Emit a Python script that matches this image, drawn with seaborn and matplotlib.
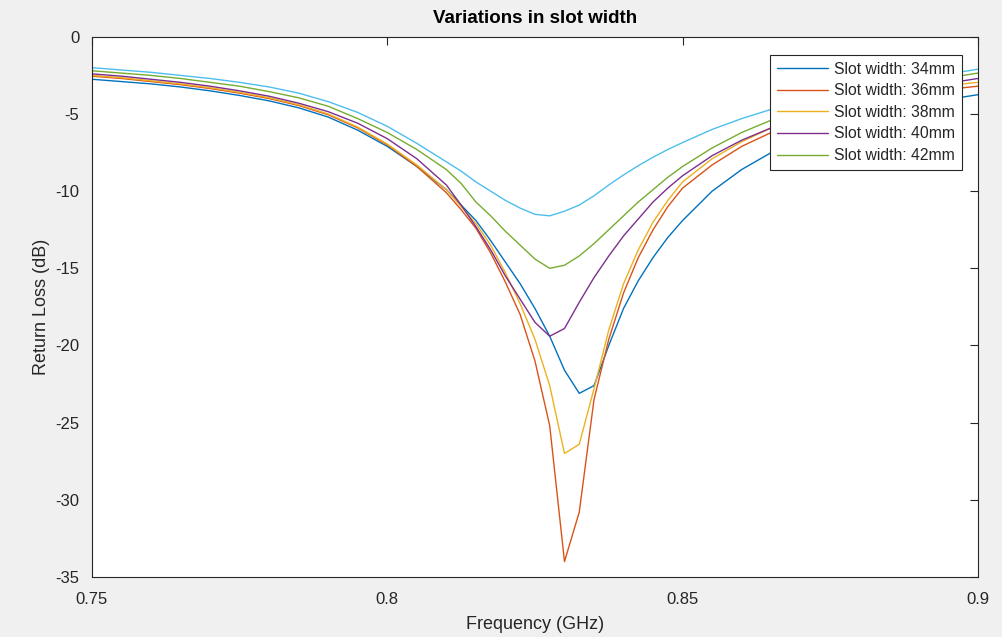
import matplotlib
matplotlib.use("Agg")
import matplotlib.pyplot as plt
import seaborn as sns
import pandas as pd

# Frequency samples (GHz)
freq = [0.750, 0.755, 0.760, 0.765, 0.770, 0.775, 0.780, 0.785, 0.790, 0.795,
        0.800, 0.805, 0.810, 0.8125, 0.815, 0.8175, 0.820, 0.8225, 0.825, 0.8275,
        0.830, 0.8325, 0.835, 0.8375, 0.840, 0.8425, 0.845, 0.8475, 0.850, 0.855,
        0.860, 0.865, 0.870, 0.875, 0.880, 0.885, 0.890, 0.895, 0.900]

# Return loss (dB) for each slot width
rl_34 = [-2.75, -2.90, -3.05, -3.25, -3.50, -3.80, -4.15, -4.60, -5.20, -6.05,
         -7.10, -8.40, -9.90, -10.9, -11.9, -13.2, -14.6, -16.0, -17.6, -19.4,
         -21.6, -23.1, -22.6, -20.0, -17.6, -15.8, -14.3, -13.0, -11.9, -10.0,
         -8.60, -7.50, -6.60, -5.90, -5.30, -4.80, -4.40, -4.05, -3.75]
rl_36 = [-2.55, -2.70, -2.90, -3.10, -3.35, -3.65, -4.00, -4.45, -5.05, -5.90,
         -7.00, -8.40, -10.1, -11.2, -12.4, -14.0, -15.9, -18.0, -21.0, -25.2,
         -34.0, -30.8, -23.5, -19.6, -16.6, -14.3, -12.5, -11.0, -9.80, -8.30,
         -7.10, -6.20, -5.45, -4.85, -4.35, -3.95, -3.60, -3.40, -3.20]
rl_38 = [-2.50, -2.65, -2.85, -3.05, -3.30, -3.60, -3.95, -4.40, -5.00, -5.85,
         -6.95, -8.30, -9.90, -11.0, -12.1, -13.5, -15.3, -17.3, -19.6, -22.6,
         -27.0, -26.4, -22.8, -19.0, -16.0, -13.8, -12.0, -10.6, -9.40, -7.90,
         -6.80, -5.90, -5.20, -4.60, -4.15, -3.75, -3.40, -3.15, -2.95]
rl_40 = [-2.40, -2.55, -2.75, -2.95, -3.20, -3.50, -3.85, -4.30, -4.85, -5.60,
         -6.60, -7.90, -9.60, -10.9, -12.3, -13.8, -15.5, -17.0, -18.5, -19.4,
         -18.9, -17.2, -15.6, -14.2, -12.9, -11.8, -10.7, -9.80, -9.00, -7.70,
         -6.70, -5.90, -5.20, -4.60, -4.10, -3.70, -3.30, -3.00, -2.70]
rl_42 = [-2.20, -2.35, -2.50, -2.70, -2.95, -3.20, -3.55, -3.95, -4.50, -5.30,
         -6.20, -7.30, -8.60, -9.50, -10.7, -11.6, -12.6, -13.5, -14.4, -15.0,
         -14.8, -14.2, -13.4, -12.5, -11.6, -10.7, -9.90, -9.10, -8.40, -7.20,
         -6.20, -5.40, -4.75, -4.20, -3.75, -3.35, -3.00, -2.65, -2.35]
rl_ref = [-2.00, -2.15, -2.30, -2.50, -2.70, -2.95, -3.25, -3.65, -4.20, -4.90,
          -5.80, -6.90, -8.10, -8.70, -9.40, -10.0, -10.6, -11.1, -11.5, -11.6,
          -11.3, -10.9, -10.3, -9.60, -8.95, -8.35, -7.80, -7.30, -6.85, -6.00,
          -5.30, -4.70, -4.20, -3.75, -3.35, -3.00, -2.70, -2.40, -2.10]

labels = ["Slot width: 34mm", "Slot width: 36mm", "Slot width: 38mm",
          "Slot width: 40mm", "Slot width: 42mm"]
colors = ["#0072BD", "#D95319", "#EDB120", "#7E2F8E", "#77AC30"]
ref_color = "#4DBEEE"

sns.set_theme(style="white")
plt.rcParams["font.family"] = ["Liberation Sans", "DejaVu Sans"]
plt.rcParams["axes.unicode_minus"] = False

fig = plt.figure(figsize=(10.03, 6.37), dpi=100, facecolor="#f0f0f0")
ax = fig.add_axes([0.0917, 0.0942, 0.8833, 0.848])
ax.set_facecolor("white")

series = [rl_34, rl_36, rl_38, rl_40, rl_42]
for vals, lab, col in zip(series, labels, colors):
    df = pd.DataFrame({"Frequency": freq, "RL": vals})
    sns.lineplot(data=df, x="Frequency", y="RL", ax=ax, color=col,
                 linewidth=1.0, label=lab)
df_ref = pd.DataFrame({"Frequency": freq, "RL": rl_ref})
sns.lineplot(data=df_ref, x="Frequency", y="RL", ax=ax, color=ref_color,
             linewidth=1.0, legend=False)

ax.set_xlim(0.75, 0.90)
ax.set_ylim(-35, 0)
ax.set_xticks([0.75, 0.80, 0.85, 0.90])
ax.set_xticklabels(["0.75", "0.8", "0.85", "0.9"])
ax.set_yticks(list(range(-35, 1, 5)))
ax.set_yticklabels([str(v) for v in range(-35, 1, 5)])

for sp in ax.spines.values():
    sp.set_color("#262626")
    sp.set_linewidth(0.8)
ax.tick_params(direction="in", length=6, width=0.8, color="#262626",
               labelsize=12, labelcolor="#262626", top=True, right=True,
               labeltop=False, labelright=False)
ax.tick_params(axis="x", pad=11)
ax.tick_params(axis="y", pad=9)

ax.set_xlabel("Frequency (GHz)", fontsize=13, color="#262626", labelpad=6)
ax.set_ylabel("Return Loss (dB)", fontsize=13, color="#262626", labelpad=4)
ax.set_title("Variations in slot width", fontsize=13.5, fontweight="bold",
             color="black", pad=10)

leg = ax.legend(loc="upper right", bbox_to_anchor=(0.982, 0.967),
                borderaxespad=0, fontsize=11.3, frameon=True, fancybox=False,
                handlelength=3.2, handletextpad=0.4, labelspacing=0.42,
                borderpad=0.45)
leg.get_frame().set_edgecolor("#262626")
leg.get_frame().set_linewidth(0.8)
leg.get_frame().set_alpha(1)

fig.savefig("out.png", dpi=100, facecolor=fig.get_facecolor())
